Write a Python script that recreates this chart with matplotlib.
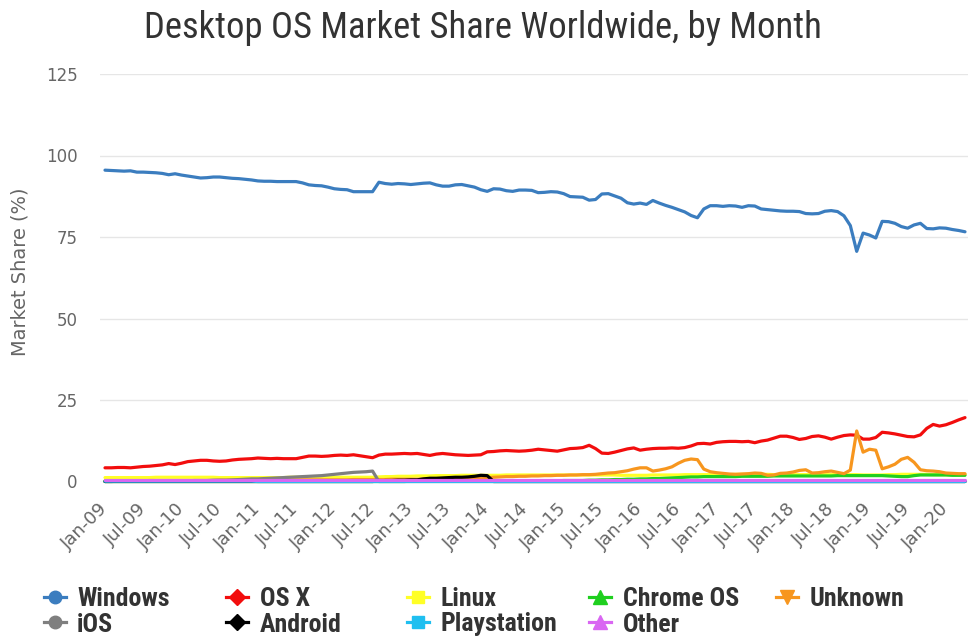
import matplotlib
matplotlib.use("Agg")
import matplotlib.pyplot as plt
from matplotlib.lines import Line2D
from matplotlib import font_manager as fm

MONTHS = ["Jan", "Feb", "Mar", "Apr", "May", "Jun", "Jul", "Aug", "Sep", "Oct", "Nov", "Dec"]
categories = [f"{m}-{y:02d}" for y in range(9, 21) for m in MONTHS][:136]

windows = [95.5, 95.4, 95.3, 95.2, 95.3, 94.9, 94.9, 94.8, 94.7, 94.5, 94.1, 94.4,
           94.0, 93.7, 93.4, 93.1, 93.2, 93.4, 93.4, 93.2, 93.0, 92.9, 92.7, 92.5,
           92.2, 92.1, 92.1, 92.0, 92.0, 92.0, 92.0, 91.6, 91.0, 90.8, 90.7, 90.3,
           89.8, 89.6, 89.5, 88.9, 88.9, 88.9, 88.9, 91.8, 91.4, 91.2, 91.4, 91.3,
           91.1, 91.3, 91.5, 91.6, 91.0, 90.6, 90.6, 91.0, 91.1, 90.7, 90.3, 89.5,
           89.0, 89.8, 89.7, 89.2, 89.0, 89.4, 89.4, 89.3, 88.6, 88.7, 88.9, 88.8,
           88.3, 87.4, 87.3, 87.2, 86.3, 86.5, 88.2, 88.3, 87.6, 86.9, 85.5, 85.1,
           85.4, 85.0, 86.2, 85.4, 84.7, 84.1, 83.4, 82.7, 81.6, 80.9, 83.6, 84.6,
           84.6, 84.4, 84.6, 84.5, 84.1, 84.6, 84.5, 83.6, 83.4, 83.2, 83.0, 82.9,
           82.9, 82.8, 82.2, 82.1, 82.2, 82.9, 83.1, 82.8, 81.5, 78.5, 70.6, 76.2,
           75.6, 74.7, 79.8, 79.7, 79.2, 78.2, 77.7, 78.7, 79.2, 77.6, 77.5, 77.8,
           77.7, 77.3, 77.0, 76.6]

osx = [4.2, 4.2, 4.3, 4.3, 4.2, 4.4, 4.6, 4.7, 4.9, 5.1, 5.5, 5.2,
       5.6, 6.1, 6.3, 6.5, 6.5, 6.3, 6.2, 6.3, 6.6, 6.8, 6.9, 7.0,
       7.2, 7.1, 7.0, 7.1, 7.0, 7.0, 7.0, 7.4, 7.8, 7.8, 7.7, 7.8,
       8.0, 8.1, 8.0, 8.2, 7.9, 7.6, 7.3, 8.1, 8.4, 8.4, 8.5, 8.6,
       8.5, 8.6, 8.3, 8.0, 8.4, 8.6, 8.4, 8.2, 8.1, 8.0, 8.1, 8.2,
       9.1, 9.2, 9.4, 9.5, 9.4, 9.3, 9.4, 9.6, 9.9, 9.7, 9.5, 9.3,
       9.7, 10.1, 10.2, 10.4, 11.1, 10.1, 8.7, 8.6, 9.0, 9.5, 10.0, 10.3,
       9.6, 9.9, 10.1, 10.2, 10.2, 10.3, 10.2, 10.4, 10.9, 11.6, 11.7, 11.5,
       12.0, 12.2, 12.3, 12.3, 12.2, 12.3, 11.9, 12.4, 12.7, 13.3, 13.9, 13.9,
       13.5, 12.9, 13.2, 13.8, 14.0, 13.6, 13.0, 13.6, 14.1, 14.3, 14.2, 13.0,
       13.0, 13.5, 15.1, 14.9, 14.6, 14.2, 13.8, 13.7, 14.3, 16.3, 17.5, 17.0,
       17.4, 18.1, 18.9, 19.6]

linux = [1.2, 1.2, 1.2, 1.2, 1.2, 1.2, 1.2, 1.2, 1.3, 1.3, 1.3, 1.3,
         1.3, 1.3, 1.3, 1.3, 1.3, 1.3, 1.2, 1.2, 1.2, 1.2, 1.2, 1.2,
         1.2, 1.2, 1.2, 1.2, 1.2, 1.3, 1.3, 1.3, 1.3, 1.3, 1.3, 1.3,
         1.3, 1.3, 1.3, 1.3, 1.3, 1.3, 1.3, 1.4, 1.5, 1.5, 1.6, 1.6,
         1.6, 1.7, 1.7, 1.7, 1.8, 1.8, 1.8, 1.8, 1.9, 1.9, 1.9, 1.9,
         1.9, 1.9, 1.9, 2.0, 2.0, 2.0, 2.0, 2.0, 2.0, 2.0, 2.0, 2.0,
         2.0, 2.0, 2.0, 2.0, 2.0, 2.0, 2.0, 2.0, 2.0, 1.9, 1.9, 1.9,
         1.9, 1.9, 2.0, 2.0, 2.0, 2.0, 2.0, 2.1, 2.1, 2.1, 2.1, 2.1,
         2.1, 2.1, 2.1, 2.2, 2.2, 2.2, 2.2, 2.2, 2.2, 2.1, 2.1, 2.1,
         2.1, 2.1, 2.1, 2.1, 2.1, 2.1, 2.1, 2.1, 2.1, 2.1, 2.1, 2.0,
         2.0, 2.0, 2.0, 2.1, 2.1, 2.2, 2.2, 2.2, 2.2, 2.2, 2.1, 2.1,
         2.1, 2.1, 2.2, 2.2]

chrome_os = [0.0, 0.0, 0.0, 0.0, 0.0, 0.0, 0.0, 0.0, 0.0, 0.0, 0.0, 0.0,
             0.0, 0.0, 0.0, 0.0, 0.0, 0.0, 0.0, 0.0, 0.0, 0.0, 0.0, 0.0,
             0.0, 0.0, 0.0, 0.0, 0.0, 0.0, 0.0, 0.0, 0.0, 0.0, 0.0, 0.0,
             0.0, 0.0, 0.0, 0.0, 0.0, 0.0, 0.0, 0.0, 0.0, 0.0, 0.0, 0.0,
             0.1, 0.1, 0.1, 0.1, 0.1, 0.1, 0.1, 0.1, 0.1, 0.1, 0.1, 0.1,
             0.2, 0.2, 0.2, 0.2, 0.2, 0.2, 0.2, 0.2, 0.2, 0.2, 0.2, 0.2,
             0.3, 0.3, 0.3, 0.3, 0.4, 0.4, 0.5, 0.5, 0.6, 0.6, 0.7, 0.7,
             0.8, 0.8, 0.9, 0.9, 1.0, 1.1, 1.2, 1.3, 1.4, 1.4, 1.5, 1.5,
             1.5, 1.5, 1.5, 1.5, 1.6, 1.6, 1.6, 1.6, 1.6, 1.7, 1.7, 1.7,
             1.7, 1.7, 1.7, 1.7, 1.7, 1.7, 1.7, 1.8, 1.8, 1.8, 1.8, 1.8,
             1.8, 1.8, 1.8, 1.7, 1.6, 1.5, 1.5, 1.8, 2.0, 2.0, 2.0, 2.0,
             2.0, 1.9, 1.9, 1.9]

unknown = [0.2, 0.2, 0.2, 0.2, 0.2, 0.2, 0.2, 0.3, 0.3, 0.3, 0.3, 0.3,
           0.3, 0.3, 0.3, 0.3, 0.3, 0.3, 0.4, 0.4, 0.4, 0.4, 0.4, 0.4,
           0.4, 0.4, 0.4, 0.5, 0.5, 0.5, 0.5, 0.5, 0.5, 0.5, 0.5, 0.5,
           0.5, 0.5, 0.5, 0.6, 0.6, 0.6, 0.6, 0.6, 0.6, 0.7, 0.7, 0.7,
           0.7, 0.7, 0.8, 0.8, 0.8, 0.9, 0.9, 0.9, 1.0, 1.0, 1.0, 1.1,
           1.2, 1.3, 1.4, 1.5, 1.5, 1.6, 1.6, 1.7, 1.7, 1.8, 1.8, 1.9,
           1.9, 2.0, 2.0, 2.1, 2.1, 2.2, 2.4, 2.6, 2.7, 3.0, 3.3, 3.8,
           4.2, 4.2, 3.2, 3.5, 3.9, 4.5, 5.6, 6.5, 6.9, 6.7, 3.8, 3.0,
           2.7, 2.5, 2.3, 2.2, 2.3, 2.4, 2.6, 2.5, 1.9, 2.0, 2.5, 2.6,
           2.9, 3.4, 3.6, 2.6, 2.7, 3.0, 3.2, 2.8, 2.4, 3.5, 15.5, 9.0,
           9.9, 9.6, 3.9, 4.5, 5.3, 6.8, 7.4, 5.9, 3.6, 3.3, 3.2, 3.0,
           2.6, 2.5, 2.4, 2.4]

ios = [0.0, 0.0, 0.1, 0.1, 0.1, 0.1, 0.1, 0.1, 0.1, 0.2, 0.2, 0.2,
       0.2, 0.2, 0.3, 0.3, 0.3, 0.4, 0.4, 0.4, 0.5, 0.6, 0.7, 0.8,
       0.8, 0.9, 1.0, 1.1, 1.2, 1.3, 1.4, 1.5, 1.6, 1.7, 1.8, 2.0,
       2.2, 2.4, 2.6, 2.8, 2.9, 3.0, 3.2, 0.0, 0.0, 0.0, 0.0, 0.0,
       0.0, 0.0, 0.0, 0.0, 0.0, 0.0, 0.0, 0.0, 0.0, 0.0, 0.0, 0.0,
       0.0, 0.0, 0.0, 0.0, 0.0, 0.0, 0.0, 0.0, 0.0, 0.0, 0.0, 0.0,
       0.0, 0.0, 0.0, 0.0, 0.0, 0.0, 0.0, 0.0, 0.0, 0.0, 0.0, 0.0,
       0.0, 0.0, 0.0, 0.0, 0.0, 0.0, 0.0, 0.0, 0.0, 0.0, 0.0, 0.0,
       0.0, 0.0, 0.0, 0.0, 0.0, 0.0, 0.0, 0.0, 0.0, 0.0, 0.0, 0.0,
       0.0, 0.0, 0.0, 0.0, 0.0, 0.0, 0.0, 0.0, 0.0, 0.0, 0.0, 0.0,
       0.0, 0.0, 0.0, 0.0, 0.0, 0.0, 0.0, 0.0, 0.0, 0.0, 0.0, 0.0,
       0.0, 0.0, 0.0, 0.0]

android = [0.0, 0.0, 0.0, 0.0, 0.0, 0.0, 0.0, 0.0, 0.0, 0.0, 0.0, 0.0,
           0.0, 0.0, 0.0, 0.0, 0.0, 0.0, 0.0, 0.0, 0.0, 0.0, 0.0, 0.0,
           0.0, 0.0, 0.0, 0.0, 0.0, 0.0, 0.0, 0.0, 0.0, 0.0, 0.0, 0.0,
           0.0, 0.0, 0.0, 0.0, 0.0, 0.0, 0.0, 0.2, 0.3, 0.3, 0.4, 0.4,
           0.5, 0.5, 0.8, 1.0, 1.0, 1.1, 1.2, 1.3, 1.3, 1.4, 1.6, 1.9,
           1.8, 0.0, 0.0, 0.0, 0.0, 0.0, 0.0, 0.0, 0.0, 0.0, 0.0, 0.0,
           0.0, 0.0, 0.0, 0.0, 0.0, 0.0, 0.0, 0.0, 0.0, 0.0, 0.0, 0.0,
           0.0, 0.0, 0.0, 0.0, 0.0, 0.0, 0.0, 0.0, 0.0, 0.0, 0.0, 0.0,
           0.0, 0.0, 0.0, 0.0, 0.0, 0.0, 0.0, 0.0, 0.0, 0.0, 0.0, 0.0,
           0.0, 0.0, 0.0, 0.0, 0.0, 0.0, 0.0, 0.0, 0.0, 0.0, 0.0, 0.0,
           0.0, 0.0, 0.0, 0.0, 0.0, 0.0, 0.0, 0.0, 0.0, 0.0, 0.0, 0.0,
           0.0, 0.0, 0.0, 0.0]

playstation = [0.1, 0.1, 0.1, 0.1, 0.1, 0.1, 0.1, 0.1, 0.1, 0.1, 0.1, 0.1,
               0.1, 0.1, 0.1, 0.1, 0.1, 0.1, 0.1, 0.1, 0.1, 0.1, 0.1, 0.1,
               0.0, 0.0, 0.0, 0.0, 0.0, 0.0, 0.0, 0.0, 0.0, 0.0, 0.0, 0.0,
               0.0, 0.0, 0.0, 0.0, 0.0, 0.0, 0.0, 0.0, 0.0, 0.0, 0.0, 0.0,
               0.0, 0.0, 0.0, 0.0, 0.0, 0.0, 0.0, 0.0, 0.0, 0.0, 0.0, 0.0,
               0.0, 0.0, 0.0, 0.0, 0.0, 0.0, 0.0, 0.0, 0.0, 0.0, 0.0, 0.0,
               0.0, 0.0, 0.0, 0.0, 0.0, 0.0, 0.0, 0.0, 0.0, 0.0, 0.0, 0.0,
               0.0, 0.0, 0.0, 0.0, 0.0, 0.0, 0.0, 0.0, 0.0, 0.0, 0.0, 0.0,
               0.0, 0.0, 0.0, 0.0, 0.0, 0.0, 0.0, 0.0, 0.0, 0.0, 0.0, 0.0,
               0.0, 0.0, 0.0, 0.0, 0.0, 0.0, 0.0, 0.0, 0.0, 0.0, 0.0, 0.0,
               0.0, 0.0, 0.0, 0.0, 0.0, 0.0, 0.0, 0.0, 0.0, 0.0, 0.0, 0.0,
               0.0, 0.0, 0.0, 0.0]

other = [0.5, 0.5, 0.5, 0.5, 0.5, 0.5, 0.5, 0.5, 0.5, 0.5, 0.5, 0.5,
         0.5, 0.5, 0.5, 0.5, 0.5, 0.5, 0.5, 0.5, 0.5, 0.5, 0.5, 0.5,
         0.5, 0.5, 0.5, 0.5, 0.5, 0.5, 0.5, 0.5, 0.5, 0.5, 0.5, 0.5,
         0.5, 0.5, 0.5, 0.5, 0.5, 0.5, 0.5, 0.5, 0.5, 0.5, 0.5, 0.5,
         0.5, 0.5, 0.5, 0.5, 0.5, 0.5, 0.5, 0.5, 0.5, 0.5, 0.5, 0.5,
         0.5, 0.5, 0.5, 0.5, 0.5, 0.5, 0.5, 0.5, 0.5, 0.5, 0.5, 0.5,
         0.5, 0.5, 0.5, 0.5, 0.5, 0.5, 0.5, 0.5, 0.5, 0.5, 0.5, 0.5,
         0.5, 0.5, 0.5, 0.5, 0.5, 0.5, 0.5, 0.5, 0.5, 0.5, 0.5, 0.5,
         0.5, 0.5, 0.5, 0.5, 0.5, 0.5, 0.5, 0.5, 0.5, 0.5, 0.5, 0.5,
         0.5, 0.5, 0.5, 0.5, 0.5, 0.5, 0.5, 0.5, 0.5, 0.5, 0.5, 0.5,
         0.5, 0.5, 0.5, 0.5, 0.5, 0.5, 0.5, 0.5, 0.5, 0.5, 0.5, 0.5,
         0.5, 0.5, 0.5, 0.5]

series_names = ["Windows", "OS X", "Linux", "Chrome OS", "Unknown",
                "iOS", "Android", "Playstation", "Other"]
series_values = [windows, osx, linux, chrome_os, unknown, ios, android, playstation, other]
series_colors = ["#3b7dbf", "#f20d0d", "#ffff26", "#1fcf1f", "#f7961e",
                 "#7f7f7f", "#000000", "#1fbff0", "#d966f2"]
series_markers = ["o", "D", "s", "^", "v", "o", "D", "s", "^"]

for v in series_values:
    assert len(v) == len(categories), len(v)


def pick(cands):
    for c in cands:
        try:
            fm.findfont(fm.FontProperties(family=c), fallback_to_default=False)
            return c
        except Exception:
            continue
    return "DejaVu Sans"


narrow = pick(["Liberation Sans Narrow", "Roboto Condensed", "Roboto"])
body = "DejaVu Sans"

W, H = 971, 637
fig = plt.figure(figsize=(W / 100, H / 100), dpi=100)
renderer = fig.canvas.get_renderer()


def fit(t, target):
    bb = t.get_window_extent(renderer)
    t.set_fontsize(t.get_fontsize() * target / bb.width)


AX_TOP, AX_BOT = 74, 481.5
ax = fig.add_axes([100 / W, 1 - AX_BOT / H, 868 / W, (AX_BOT - AX_TOP) / H])
xs = list(range(len(categories)))
for k, (name, vals, col) in enumerate(zip(series_names, series_values, series_colors)):
    ax.plot(xs, vals, color=col, lw=2.3, solid_joinstyle="round",
            solid_capstyle="round", clip_on=False, zorder=3 + k)

ax.set_xlim(-5 / 6.37, 135 + 3 / 6.37)
ax.set_ylim(0, 125)
ax.set_yticks([0, 25, 50, 75, 100, 125])
ax.grid(axis="y", color="#e6e6e6", lw=1)
ax.set_axisbelow(True)
for s in ax.spines.values():
    s.set_visible(False)
ax.tick_params(axis="both", length=0, colors="#666666")
ax.tick_params(axis="y", pad=16, labelsize=12)
ax.set_xticks(xs[::6])
ax.set_xticklabels(categories[::6], rotation=45, ha="right", va="center",
                   rotation_mode="anchor", fontsize=13, color="#666666", family=body)
ax.tick_params(axis="x", pad=18)
for lab in ax.get_yticklabels():
    lab.set_family(body)
    lab.set_color("#666666")

title = fig.text(483 / W, 1 - 28 / H, "Desktop OS Market Share Worldwide, by Month",
                 ha="center", va="center", fontsize=20, color="#333333", family=narrow)
fit(title, 677)

ylab = fig.text(20 / W, 1 - 272 / H, "Market Share (%)", ha="center", va="center",
                fontsize=12, color="#666666", family=body)
fit(ylab, 168)
ylab.set_rotation(90)

# legend
col_marker_x = [55, 237, 418, 600, 787]
col_text_x = [77, 260, 441, 623, 810]
row_y = [597, 622]
order = [(0, 0), (1, 0), (2, 0), (3, 0), (4, 0), (0, 1), (1, 1), (2, 1), (3, 1)]
leg_texts = []
for k, (c, r) in enumerate(order):
    mx = col_marker_x[c]
    my = row_y[r]
    fy = 1 - my / H
    fig.add_artist(Line2D([(mx - 11) / W, (mx + 11) / W], [fy, fy], color=series_colors[k],
                          lw=2.3, transform=fig.transFigure))
    ms = 9 if series_markers[k] in ("o", "s") else 10
    if series_markers[k] == "D":
        ms = 8
    fig.add_artist(Line2D([mx / W], [fy], marker=series_markers[k], ms=ms, color=series_colors[k],
                          mec=series_colors[k], lw=0, transform=fig.transFigure))
    t = fig.text(col_text_x[c] / W, fy, series_names[k], ha="left", va="center_baseline",
                 fontsize=14, fontweight="bold", color="#333333", family=narrow)
    leg_texts.append(t)

bb = leg_texts[0].get_window_extent(renderer)
scale = 93 / bb.width
for t in leg_texts:
    t.set_fontsize(t.get_fontsize() * scale)

fig.savefig("out.png", dpi=100)
